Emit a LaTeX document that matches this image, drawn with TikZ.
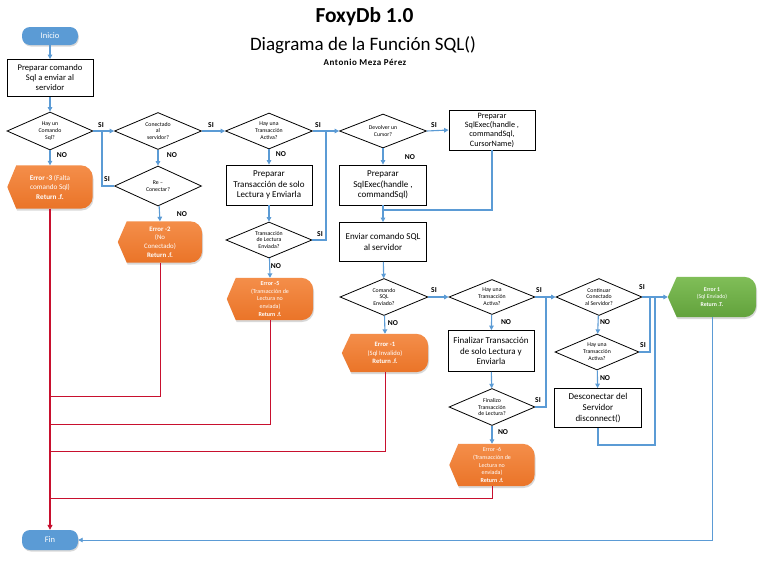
\documentclass[tikz,border=0pt]{standalone}
\usepackage{fontspec}
\setmainfont{Carlito}
\usetikzlibrary{shapes.geometric,arrows.meta,calc,shadows}
\definecolor{lblue}{HTML}{5B9BD5}
\definecolor{org}{HTML}{EA7428}
\definecolor{orgL}{HTML}{F48E4A}
\definecolor{grn}{HTML}{62A23C}
\definecolor{grnL}{HTML}{80BE58}
\definecolor{rd}{HTML}{C8102E}
\tikzset{
 flow/.style={draw=lblue, line width=1.1pt, -{Triangle[length=4.5pt,width=4.5pt]}},
 link/.style={draw=lblue, line width=1.1pt},
 redl/.style={draw=rd, line width=1pt},
 dec/.style={diamond, aspect=2.6, draw=black, line width=0.8pt, inner sep=0pt, align=center, font=\fontsize{5.8}{6.9}\selectfont},
 box/.style={rectangle, draw=black, line width=0.8pt, inner sep=1pt, align=center, font=\fontsize{9}{10.6}\selectfont},
 term/.style={rectangle, rounded corners=8pt, fill=lblue, text=white, font=\fontsize{8.5}{9}\selectfont, drop shadow={opacity=0.3, shadow xshift=0.8pt, shadow yshift=-1.5pt}},
 lab/.style={font=\bfseries\fontsize{7.5}{8}\selectfont, inner sep=0pt},
 errtext/.style={text=white, align=center, inner sep=0pt},
 ofill/.style={top color=orgL, bottom color=org},
 gfill/.style={top color=grnL, bottom color=grn},
}
\newcommand\dispshape[8]{%
 \node[minimum width=#4, minimum height=#5, inner sep=0pt, draw=none] (#1) at (#2,#3) {};
 \path[#6, drop shadow={opacity=0.3, shadow xshift=0.8pt, shadow yshift=-1.8pt}] (#1.west) -- ([xshift=9pt]#1.north west) -- ([xshift=-12pt]#1.north east) to[out=0,in=90] ([yshift=-12pt]#1.north east) -- ([yshift=12pt]#1.south east) to[out=-90,in=0] ([xshift=-12pt]#1.south east) -- ([xshift=9pt]#1.south west) -- cycle;
 \node[errtext, font=#7] (#1t) at (#1) {#8};
}
\begin{document}
\begin{tikzpicture}[x=1pt,y=-1pt]
\useasboundingbox (0,0) rectangle (768,576);
\fill[white] (0,0) rectangle (768,576);

% titles
\node[font=\bfseries\fontsize{21.4}{22}\selectfont] (title) at (364.5,17) {FoxyDb 1.0};
\node[font=\fontsize{19}{20}\selectfont] (subtitle) at (363,45) {Diagrama de la Función SQL()};
\node[font=\bfseries\fontsize{9}{10}\selectfont\addfontfeature{LetterSpace=6}] (author) at (365,62) {Antonio Meza Pérez};

% terminals
\node[term, minimum width=56pt, minimum height=18pt] (ini) at (50,36) {Inicio};
\node[term, minimum width=56pt, minimum height=20pt] (fin) at (50,540) {Fin};

% column 1
\node[box, minimum width=86pt, minimum height=37pt, font=\fontsize{8.6}{10}\selectfont] (prep) at (50,78) {Preparar comando\\Sql a enviar al\\servidor};
\node[dec, minimum width=86pt, minimum height=38pt] (d1) at (50,131) {Hay un\\Comando\\Sql?};
\dispshape{e3}{50}{187}{85pt}{43pt}{ofill}{\fontsize{7.2}{9.5}\selectfont}{\textbf{Error -3} (Falta\\comando Sql)\\\textbf{Return .f.}}

% column 2
\node[dec, minimum width=87pt, minimum height=37pt] (d2) at (158,131) {Conectado\\al\\servidor?};
\node[dec, minimum width=87pt, minimum height=40pt] (dre) at (158,186) {Re –\\Conectar?};
\dispshape{e2}{160}{242}{84pt}{41pt}{ofill}{\fontsize{6.8}{8.8}\selectfont}{\textbf{Error -2}\\(No\\Conectado)\\\textbf{Return .f.}}

% column 3
\node[dec, minimum width=87pt, minimum height=36pt] (d3) at (269,131) {Hay una\\Transacción\\Activa?};
\node[box, minimum width=86pt, minimum height=40pt] (b3) at (269,185) {Preparar\\Transacción de solo\\Lectura y Enviarla};
\node[dec, minimum width=86pt, minimum height=36pt] (d3b) at (269,240) {Transacción\\de Lectura\\Enviada?};
\dispshape{e5}{270}{299}{86pt}{42pt}{ofill}{\fontsize{6}{7.6}\selectfont}{\textbf{Error -5}\\(Transacción de\\Lectura no\\enviada)\\\textbf{Return .f.}}

% column 4
\node[dec, minimum width=87pt, minimum height=34pt] (d4) at (383,131) {Devolver un\\Cursor?};
\node[box, minimum width=87pt, minimum height=40pt] (b4) at (383,185) {Preparar\\SqlExec(handle ,\\commandSql)};
\node[box, minimum width=86pt, minimum height=40pt, font=\fontsize{8.2}{9.3}\selectfont] (b5) at (492,130) {Preparar\\SqlExec(handle ,\\commandSql,\\CursorName)};
\node[box, minimum width=87pt, minimum height=39pt] (b6) at (383,242) {Enviar comando SQL\\al servidor};
\node[dec, minimum width=88pt, minimum height=37pt] (d5) at (384,297) {Comando\\SQL\\Enviado?};
\dispshape{e1}{385}{353}{86pt}{38pt}{ofill}{\fontsize{6.6}{8.5}\selectfont}{\textbf{Error -1}\\(Sql Invalido)\\\textbf{Return .f.}}

% column 5
\node[dec, minimum width=86pt, minimum height=35pt] (d6) at (492,297) {Hay una\\Transacción\\Activa?};
\node[box, minimum width=86pt, minimum height=41pt] (b7) at (491,351) {Finalizar Transacción\\de solo Lectura y\\Enviarla};
\node[dec, minimum width=86pt, minimum height=37pt] (d7) at (492,407) {Finalizo\\Transacción\\de Lectura?};
\dispshape{e6}{492}{465}{85pt}{42pt}{ofill}{\fontsize{6}{7.6}\selectfont}{Error -6\\(Transacción de\\Lectura no\\enviada)\\\textbf{Return .f.}}

% column 6
\node[dec, minimum width=86pt, minimum height=37pt] (d8) at (599,297) {Continuar\\Conectado\\al Servidor?};
\node[dec, minimum width=84pt, minimum height=36pt] (d9) at (597,352) {Hay una\\Transacción\\Activa?};
\node[box, minimum width=87pt, minimum height=39pt] (b8) at (598,408) {Desconectar del\\Servidor\\disconnect()};
\dispshape{ok}{712}{297}{88pt}{40pt}{gfill}{\fontsize{5.8}{7.4}\selectfont}{\textbf{Error 1}\\(Sql Enviado)\\\textbf{Return .T.}}

% junctions
\coordinate (j1) at (102,131);
\coordinate (j2) at (326,131);
\coordinate (j3) at (383,210);
\coordinate (j4) at (546,297);
\coordinate (j5) at (650,297);
\coordinate (j6) at (655,297);
\coordinate (j7) at (598,445);
\coordinate (r1) at (50,396);
\coordinate (r2) at (50,424);
\coordinate (r3) at (50,451);
\coordinate (r4) at (50,498);

% blue connectors
\draw[flow] (ini) -- (prep);
\draw[flow] (prep) -- (d1);
\draw[flow] (d1) -- (e3.north);
\draw[flow] (d1.east) -- (d2.west);
\draw[link] (dre.west) -| (j1);
\draw[flow] (d2) -- (dre);
\draw[flow] (dre) -- (e2.north);
\draw[flow] (d2.east) -- (d3.west);
\draw[flow] (d3) -- (b3);
\draw[flow] (b3) -- (d3b);
\draw[flow] (d3b) -- (e5.north);
\draw[flow] (d3.east) -- (d4.west);
\draw[link] (d3b.east) -| (j2);
\draw[flow] (d4.east) -- (b5.west);
\draw[flow] (d4) -- (b4);
\draw[flow] (b4) -- (b6);
\draw[link] (b5.south) |- (j3);
\draw[flow] (b6) -- (d5);
\draw[flow] (d5) -- (e1.north);
\draw[flow] (d5.east) -- (d6.west);
\draw[flow] (d6) -- (b7);
\draw[flow] (b7) -- (d7);
\draw[flow] (d7) -- (e6.north);
\draw[flow] (d6.east) -- (d8.west);
\draw[link] (d7.east) -| (j4);
\draw[flow] (d8.east) -- (ok.west);
\draw[flow] (d8) -- (d9);
\draw[link] (d9.east) -| (j5);
\draw[flow] (d9) -- (b8);
\draw[link] (b8.south) -- (j7) -| (j6);
\draw[flow, line width=0.9pt] (ok.south) |- (fin.east);

% red connectors
\draw[redl] (e2.south) |- (r1);
\draw[redl] (e5.south) |- (r2);
\draw[redl] (e1.south) |- (r3);
\draw[redl] (e6.south) |- (r4);
\draw[redl, line width=1.5pt, -{Triangle[length=5pt,width=5pt]}] (e3.south) -- (fin.north);

% labels
\node[lab] (l1) at (101,125) {SI};
\node[lab] (l2) at (62,155) {NO};
\node[lab] (l3) at (211,125) {SI};
\node[lab] (l4) at (172,155) {NO};
\node[lab] (l5) at (107,179) {SI};
\node[lab] (l6) at (182,214) {NO};
\node[lab] (l7) at (318,125) {SI};
\node[lab] (l8) at (281,154) {NO};
\node[lab] (l9) at (320,234) {SI};
\node[lab] (l10) at (276,266) {NO};
\node[lab] (l11) at (434,125) {SI};
\node[lab] (l12) at (410,157) {NO};
\node[lab] (l13) at (434,290) {SI};
\node[lab] (l14) at (393,323) {NO};
\node[lab] (l15) at (539,290) {SI};
\node[lab] (l16) at (506,322) {NO};
\node[lab] (l17) at (538,400) {SI};
\node[lab] (l18) at (503,432) {NO};
\node[lab] (l19) at (642,287) {SI};
\node[lab] (l20) at (605,322) {NO};
\node[lab] (l21) at (643,345) {SI};
\node[lab] (l22) at (605,378) {NO};
\end{tikzpicture}
\end{document}
